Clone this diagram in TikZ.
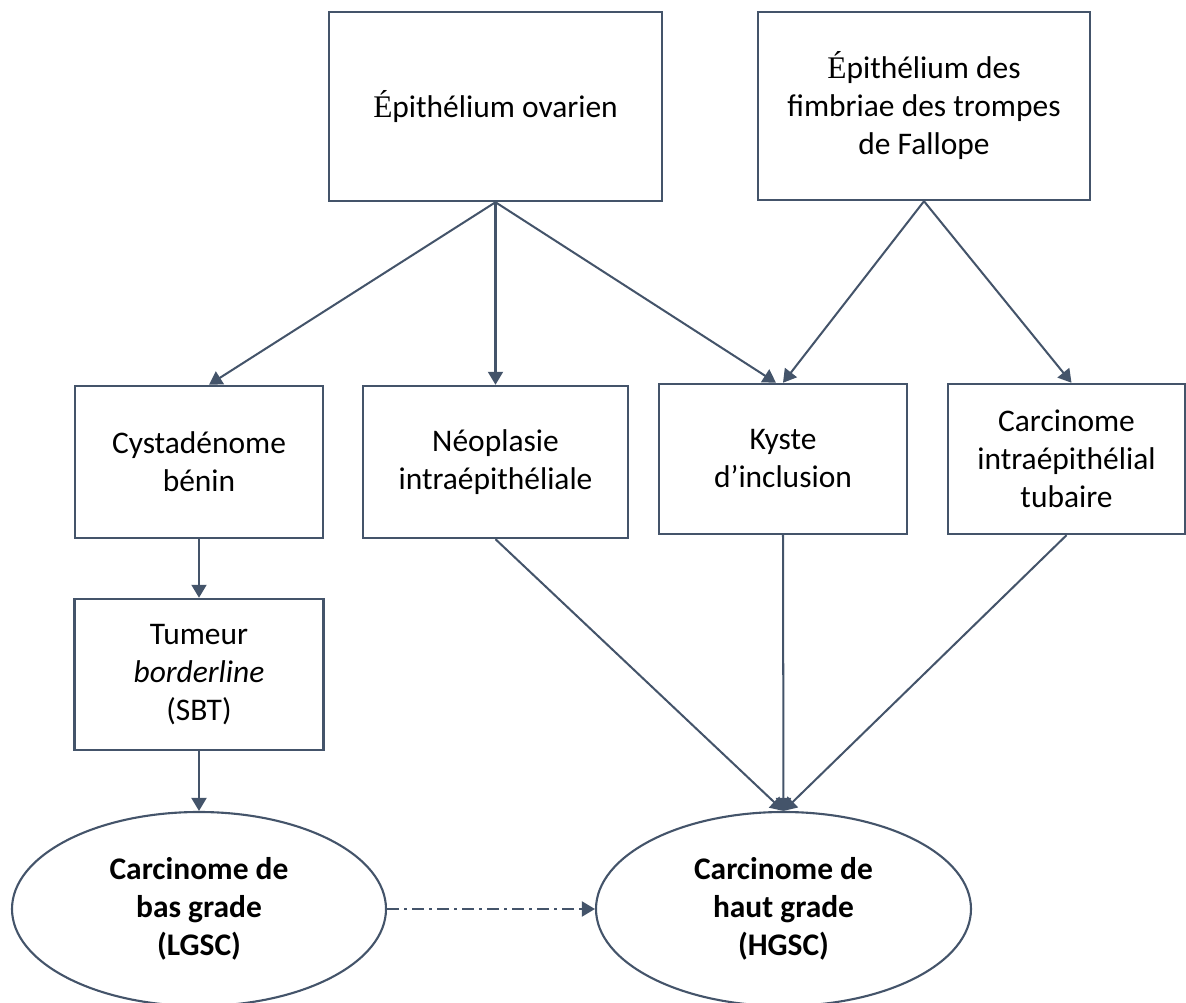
\documentclass[tikz,border=0pt]{standalone}
\usepackage{fontspec}
\setmainfont{Carlito}
\newfontfamily\serifE{Liberation Serif}
\usetikzlibrary{shapes,arrows.meta}
\definecolor{slate}{RGB}{68,84,106}
\newcommand{\Eacute}{{\serifE É}}

\begin{document}
\begin{tikzpicture}[
  >={Triangle[length=0.26cm,width=0.3cm]},
  box/.style={shape=rectangle,draw=slate,align=center,line width=1.4pt,inner sep=0pt,font=\fontsize{17.9}{21.6}\selectfont},
  oval/.style={shape=ellipse,draw=slate,align=center,line width=1.2pt,inner sep=0pt,font=\fontsize{17.9}{21.6}\selectfont\bfseries},
  link/.style={->,draw=slate,line width=1.15pt},
  dashlink/.style={->,draw=slate,line width=1.15pt,dash pattern=on 0.24cm off 0.1cm on 0.06cm off 0.1cm}]
\useasboundingbox (0,0) rectangle (23.72,20.06);
\node[box,minimum width=6.66cm,minimum height=3.78cm] (0) at (9.91,17.93) {\Eacute pithélium ovarien};
\node[box,minimum width=6.64cm,minimum height=3.76cm] (1) at (18.48,17.94) {\Eacute pithélium des\\fimbriae des trompes\\de Fallope};
\node[box,minimum width=4.96cm,minimum height=3.04cm] (2) at (3.98,10.82) {Cystadénome\\bénin};
\node[box,minimum width=5.30cm,minimum height=3.04cm] (3) at (9.91,10.82) {Néoplasie\\intraépithéliale};
\node[box,minimum width=4.96cm,minimum height=3.00cm] (4) at (15.66,10.88) {Kyste\\d’inclusion};
\node[box,minimum width=4.74cm,minimum height=3.00cm] (5) at (21.33,10.88) {Carcinome\\intraépithélial\\tubaire};
\node[box,minimum width=4.98cm,minimum height=3.02cm] (6) at (3.98,6.57) {Tumeur\\\textit{borderline}\\(SBT)};
\node[oval,minimum width=7.48cm,minimum height=3.88cm] (7) at (3.98,1.88) {Carcinome de\\bas grade\\(LGSC)};
\node[oval,minimum width=7.50cm,minimum height=3.88cm] (8) at (15.67,1.88) {Carcinome de\\haut grade\\(HGSC)};

\path (0.south) edge [link] ([xshift=0.2cm]2.north);
\path (0.south) edge [link] (3.north);
\path (0.south) edge [link] ([xshift=-0.14cm]4.north);
\path (1.south) edge [link] (4.north);
\path (1.south) edge [link] ([xshift=0.1cm]5.north);
\path (2.south) edge [link] (6.north);
\path (6.south) edge [link] (7.north);
\path (3.south) edge [link] (8.north);
\path (4.south) edge [link] (8.north);
\path (5.south) edge [link] (8.north);
\path (7.east) edge [dashlink] (8.west);
\end{tikzpicture}
\end{document}
